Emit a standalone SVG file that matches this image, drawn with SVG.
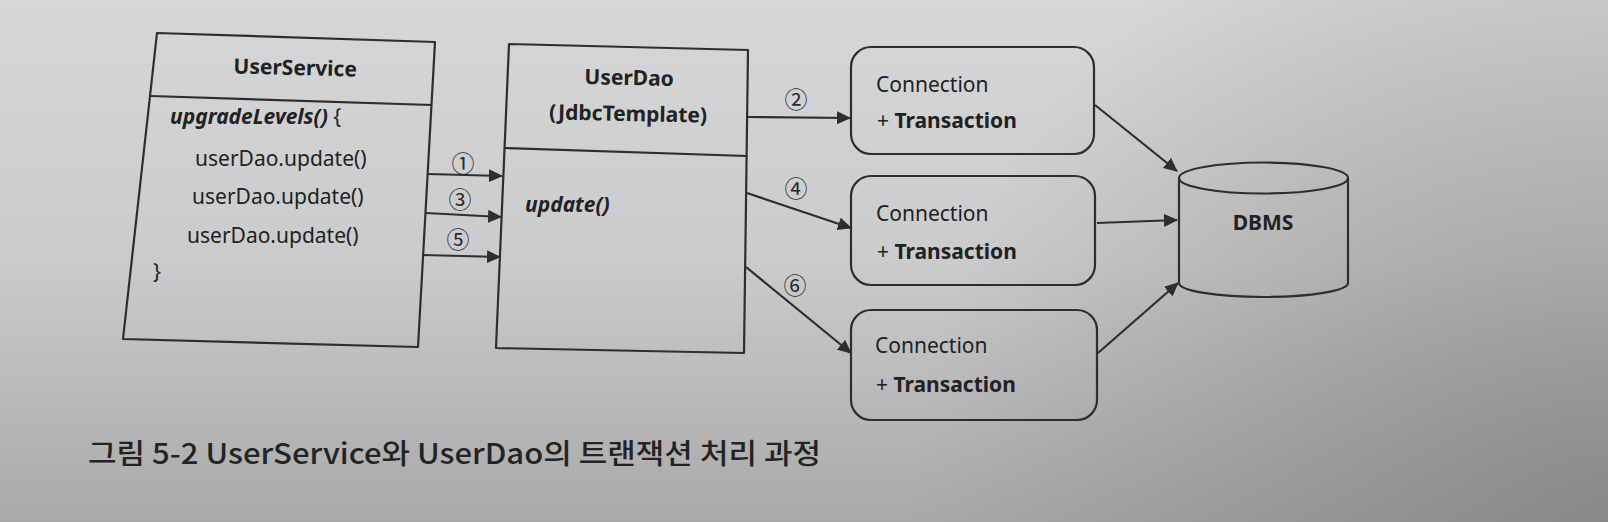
<svg xmlns="http://www.w3.org/2000/svg" width="1608" height="522" viewBox="0 0 1608 522">
<defs>
<linearGradient id="paper" x1="0" y1="0" x2="0" y2="1">
<stop offset="0" stop-color="#d5d7d8"/>
<stop offset="0.5" stop-color="#cacbcc"/>
<stop offset="1" stop-color="#a9a9a9"/>
</linearGradient>
<radialGradient id="shade" cx="1608" cy="522" r="700" gradientUnits="userSpaceOnUse">
<stop offset="0" stop-color="#6f6c6c" stop-opacity="0.55"/>
<stop offset="1" stop-color="#6f6c6c" stop-opacity="0"/>
</radialGradient>
<marker id="ah" viewBox="0 0 14 14" refX="13" refY="7" markerWidth="14" markerHeight="14" markerUnits="userSpaceOnUse" orient="auto">
<path d="M0,0.5 L14,7 L0,13.5 Z" fill="#2e2e2e"/>
</marker>
<style>
.box{fill:none;stroke:#2e2e2e;stroke-width:2.2;stroke-linejoin:round}
.conn{fill:none;stroke:#2e2e2e;stroke-width:2.2;marker-end:url(#ah)}
.t{font-family:"Noto Sans","Liberation Sans",sans-serif;font-size:21px;fill:#222}
.b{font-weight:bold}
.bi{font-weight:bold;font-style:italic}
.num{font-family:"Noto Sans CJK KR","Noto Sans",sans-serif;font-size:23px;fill:#2a2a2a;text-anchor:middle;dominant-baseline:central}
.cap{font-family:"Noto Sans CJK KR","Noto Sans",sans-serif;font-size:28px;font-weight:500;fill:#242424}
</style>
</defs>
<rect width="1608" height="522" fill="url(#paper)"/>
<rect width="1608" height="522" fill="url(#shade)"/>

<g id="userservice">
<polygon class="box" points="157,33 435,42 418,347 123,339"/>
<line class="box" x1="151" y1="96" x2="432" y2="105"/>
<text class="t b" x="295" y="75" text-anchor="middle" transform="rotate(1.5 295 75)">UserService</text>
<text class="t" x="170" y="124"><tspan class="bi">upgradeLevels()</tspan> {</text>
<text class="t" x="195" y="166">userDao.update()</text>
<text class="t" x="192" y="204">userDao.update()</text>
<text class="t" x="187" y="243">userDao.update()</text>
<text class="t" x="153" y="279">}</text>
</g>

<g id="userdao">
<polygon class="box" points="509,44 748,50 744,353 496,348"/>
<line class="box" x1="505" y1="148" x2="747" y2="156"/>
<text class="t b" x="629" y="85" text-anchor="middle" transform="rotate(1.2 629 85)">UserDao</text>
<text class="t b" x="628" y="121" text-anchor="middle" transform="rotate(1.2 628 121)">(JdbcTemplate)</text>
<text class="t bi" x="525" y="212">update()</text>
</g>

<g id="conn1">
<rect class="box" x="851" y="47" width="243" height="107" rx="20"/>
<text class="t" x="876" y="92">Connection</text>
<text class="t" x="877" y="128">+ <tspan class="b">Transaction</tspan></text>
</g>

<g id="conn2">
<rect class="box" x="851" y="176" width="244" height="109" rx="20"/>
<text class="t" x="876" y="221">Connection</text>
<text class="t" x="877" y="259">+ <tspan class="b">Transaction</tspan></text>
</g>

<g id="conn3">
<rect class="box" x="851" y="310" width="246" height="110" rx="20"/>
<text class="t" x="875" y="353">Connection</text>
<text class="t" x="876" y="392">+ <tspan class="b">Transaction</tspan></text>
</g>

<g id="dbms">
<path class="box" d="M1179,178 L1179,283 A84.5,14 0 0 0 1348,283 L1348,178"/>
<ellipse class="box" cx="1263.5" cy="178" rx="84.5" ry="15.5"/>
<text class="t b" x="1263" y="230" text-anchor="middle">DBMS</text>
</g>

<g id="connectors">
<line class="conn" x1="428" y1="174" x2="502" y2="176"/>
<line class="conn" x1="426" y1="213" x2="501" y2="217"/>
<line class="conn" x1="423" y1="255" x2="500" y2="257"/>
<line class="conn" x1="748" y1="117" x2="850" y2="118"/>
<line class="conn" x1="747" y1="193" x2="851" y2="228"/>
<line class="conn" x1="746" y1="267" x2="851" y2="353"/>
<line class="conn" x1="1095" y1="105" x2="1177" y2="171"/>
<line class="conn" x1="1097" y1="223" x2="1177" y2="220"/>
<line class="conn" x1="1098" y1="353" x2="1178" y2="283"/>
<text class="num" x="463" y="162">①</text>
<text class="num" x="460" y="198">③</text>
<text class="num" x="458" y="238">⑤</text>
<text class="num" x="796" y="98">②</text>
<text class="num" x="796" y="187">④</text>
<text class="num" x="795" y="284">⑥</text>
</g>

<text class="cap" x="88" y="464" textLength="733" lengthAdjust="spacingAndGlyphs">그림 5-2 UserService와 UserDao의 트랜잭션 처리 과정</text>
</svg>
